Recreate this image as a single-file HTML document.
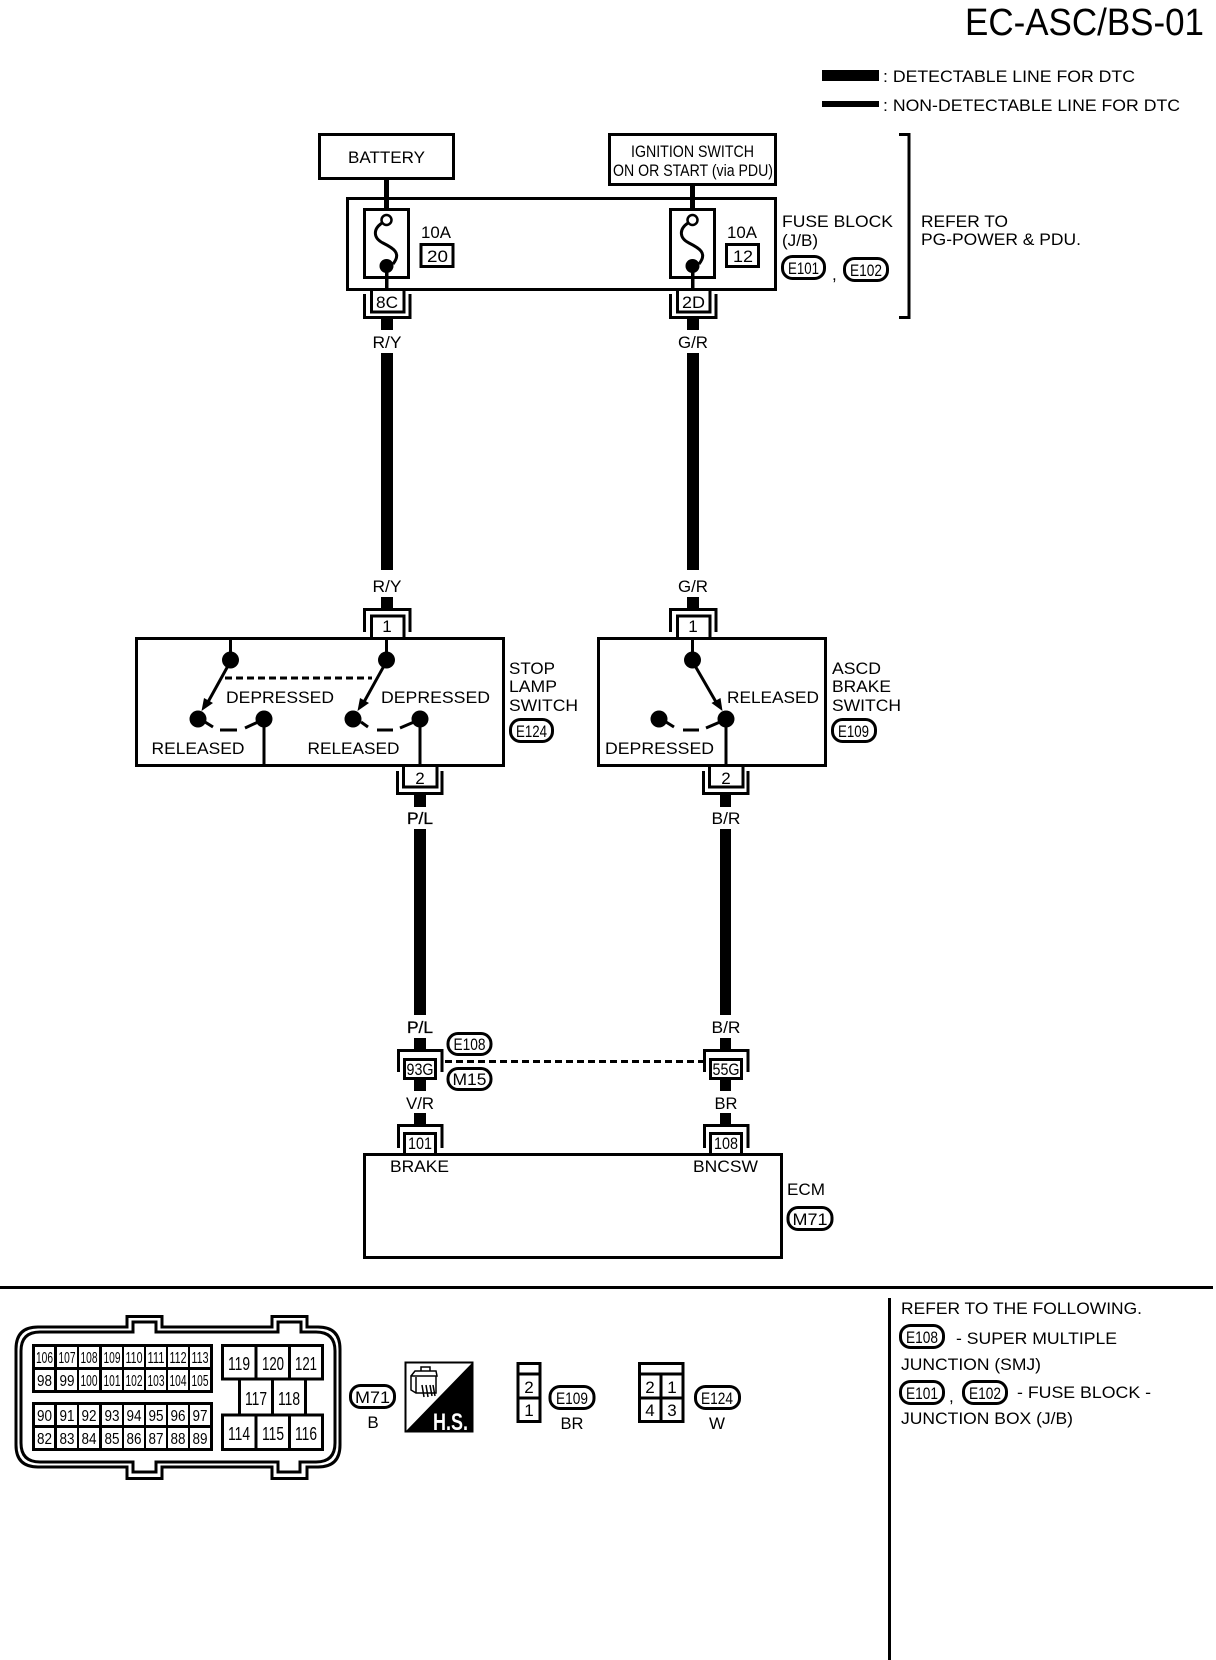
<!DOCTYPE html>
<html><head><meta charset="utf-8"><title>EC-ASC/BS-01</title>
<style>
html,body{margin:0;padding:0;background:#fff;width:1216px;height:1660px;overflow:hidden}
svg{display:block}
text{font-family:"Liberation Sans",sans-serif;font-size:17px;fill:#000}
.p{font-size:17px}
.n{font-size:16px}
.c{text-anchor:middle}
.l{fill:none;stroke:#000;stroke-width:3}
.b{fill:#fff;stroke:#000;stroke-width:3}
.w{fill:#000}
</style></head><body>
<svg width="1216" height="1660" viewBox="0 0 1216 1660" xmlns="http://www.w3.org/2000/svg">
<text x="965" y="35" style="font-size:38px" textLength="239" lengthAdjust="spacingAndGlyphs">EC-ASC/BS-01</text>
<!-- legend -->
<rect class="w" x="822" y="70" width="57" height="11"/>
<rect class="w" x="822" y="101" width="57" height="6"/>
<text x="883" y="82" textLength="252" lengthAdjust="spacingAndGlyphs">: DETECTABLE LINE FOR DTC</text>
<text x="883" y="111" textLength="297" lengthAdjust="spacingAndGlyphs">: NON-DETECTABLE LINE FOR DTC</text>
<!-- top boxes -->
<rect class="l" x="319.500" y="134.500" width="134" height="44"/>
<text x="348" y="163" textLength="77" lengthAdjust="spacingAndGlyphs">BATTERY</text>
<rect class="l" x="609.500" y="134.500" width="166" height="50"/>
<text x="631" y="157" textLength="123" lengthAdjust="spacingAndGlyphs">IGNITION SWITCH</text>
<text x="613" y="176" textLength="160" lengthAdjust="spacingAndGlyphs">ON OR START (via PDU)</text>
<!-- fuse block -->
<rect class="l" x="347.500" y="198.500" width="428" height="91"/>
<rect class="w" x="384" y="179" width="5" height="30"/>
<rect class="w" x="690" y="185" width="5" height="24"/>
<rect class="l" x="364.500" y="209.500" width="44" height="68"/>
<rect class="l" x="670.500" y="209.500" width="44" height="68"/>
<path class="l" d="M382,223C373,229 373,238 383,243C393,248 402,253 393,264M688,223C679,229 679,238 689,243C699,248 708,253 699,264"/>
<circle cx="386.500" cy="220" r="5" class="b" style="stroke-width:2.500"/>
<circle cx="692.500" cy="220" r="5" class="b" style="stroke-width:2.500"/>
<circle cx="386.500" cy="266" r="7" class="w"/>
<circle cx="692.500" cy="266" r="7" class="w"/>
<rect class="w" x="385" y="266" width="3.500" height="24"/>
<rect class="w" x="691" y="266" width="3.500" height="24"/>
<text x="421" y="238" textLength="30" lengthAdjust="spacingAndGlyphs">10A</text>
<text x="727" y="238" textLength="30" lengthAdjust="spacingAndGlyphs">10A</text>
<rect class="l" x="421" y="244.500" width="32" height="22"/>
<rect class="l" x="726.500" y="244.500" width="32" height="22"/>
<text x="427" y="262" textLength="21" lengthAdjust="spacingAndGlyphs">20</text>
<text x="733" y="262" textLength="20" lengthAdjust="spacingAndGlyphs">12</text>
<text x="782" y="227" textLength="111" lengthAdjust="spacingAndGlyphs">FUSE BLOCK</text>
<text x="782" y="246" textLength="36" lengthAdjust="spacingAndGlyphs">(J/B)</text>
<rect class="l" x="782.500" y="256.500" width="42" height="22" rx="10"/>
<text class="p" x="788" y="274" textLength="31" lengthAdjust="spacingAndGlyphs">E101</text>
<text x="832" y="280">,</text>
<rect class="l" x="844.500" y="258.500" width="43" height="22" rx="10"/>
<text class="p" x="850" y="276" textLength="32" lengthAdjust="spacingAndGlyphs">E102</text>
<path class="l" d="M899,134.500H909V317.500H899"/>
<text x="921" y="227" textLength="87" lengthAdjust="spacingAndGlyphs">REFER TO</text>
<text x="921" y="245" textLength="160" lengthAdjust="spacingAndGlyphs">PG-POWER &amp; PDU.</text>
<!-- fuse connectors -->
<path class="l" d="M364.500,294V317.500H410V294M670.500,294V317.500H716V294"/>
<path class="l" d="M371.500,290V312H404V290M677.500,290V312H710V290"/>
<text x="376" y="308" textLength="22" lengthAdjust="spacingAndGlyphs">8C</text>
<text x="682" y="308" textLength="23" lengthAdjust="spacingAndGlyphs">2D</text>
<!-- upper wires -->
<rect class="w" x="381" y="319" width="12" height="11"/>
<rect class="w" x="687" y="319" width="12" height="11"/>
<text class="c" x="387" y="348" textLength="29" lengthAdjust="spacingAndGlyphs">R/Y</text>
<text class="c" x="693" y="348" textLength="30" lengthAdjust="spacingAndGlyphs">G/R</text>
<rect class="w" x="381" y="353" width="12" height="217"/>
<rect class="w" x="687" y="353" width="12" height="217"/>
<text class="c" x="387" y="592" textLength="29" lengthAdjust="spacingAndGlyphs">R/Y</text>
<text class="c" x="693" y="592" textLength="30" lengthAdjust="spacingAndGlyphs">G/R</text>
<rect class="w" x="381" y="597" width="12" height="12"/>
<rect class="w" x="687" y="597" width="12" height="12"/>
<!-- top connectors of switches -->
<path class="l" d="M364.500,632V609.500H410V632M670.500,632V609.500H716V632"/>
<path class="l" d="M371.500,637V616H404V637M677.500,637V616H710V637"/>
<text class="c" style="font-size:17px" x="387" y="632">1</text>
<text class="c" style="font-size:17px" x="693" y="632">1</text>
<!-- switch boxes -->
<rect class="l" x="136.500" y="638.500" width="367" height="127"/>
<rect class="l" x="598.500" y="638.500" width="227" height="127"/>
<path class="l" d="M230.500,638V660M386.500,638V660M692.500,638V660M264,718V765M420,718V765M726,718V765"/>
<circle class="w" cx="230.500" cy="660" r="8.500"/>
<circle class="w" cx="386.500" cy="660" r="8.500"/>
<circle class="w" cx="692.500" cy="660" r="8.500"/>
<circle class="w" cx="198" cy="719" r="8.500"/>
<circle class="w" cx="264" cy="719" r="8.500"/>
<circle class="w" cx="353" cy="719" r="8.500"/>
<circle class="w" cx="420" cy="719" r="8.500"/>
<circle class="w" cx="659" cy="719" r="8.500"/>
<circle class="w" cx="726" cy="719" r="8.500"/>
<!-- arrows -->
<path class="l" d="M229,664L208,702M385,664L364,702M694,664L716,702"/>
<path class="w" d="M201.500,711L204,698L213,703ZM357.500,711L360,698L369,703ZM722.500,711L711.500,703L720.500,698Z"/>
<!-- dashed -->
<path class="l" d="M225,678H372" stroke-dasharray="7,4"/>
<path class="l" d="M205,722L213,727M220,730H237M245,728L258,722M361,722L368,727M377,730H393M400,728L414,722M666,722L674,727M683,730H699M706,728L720,722"/>
<text x="226" y="703" textLength="108" lengthAdjust="spacingAndGlyphs">DEPRESSED</text>
<text x="381" y="703" textLength="109" lengthAdjust="spacingAndGlyphs">DEPRESSED</text>
<text x="151.500" y="754" textLength="93" lengthAdjust="spacingAndGlyphs">RELEASED</text>
<text x="307.500" y="754" textLength="92" lengthAdjust="spacingAndGlyphs">RELEASED</text>
<text x="727" y="703" textLength="92" lengthAdjust="spacingAndGlyphs">RELEASED</text>
<text x="605" y="754" textLength="109" lengthAdjust="spacingAndGlyphs">DEPRESSED</text>
<text x="509" y="674" textLength="46" lengthAdjust="spacingAndGlyphs">STOP</text>
<text x="509" y="692" textLength="48" lengthAdjust="spacingAndGlyphs">LAMP</text>
<text x="509" y="711" textLength="69" lengthAdjust="spacingAndGlyphs">SWITCH</text>
<rect class="l" x="510.500" y="719.500" width="42" height="22" rx="10"/>
<text class="p" x="516" y="737" textLength="31" lengthAdjust="spacingAndGlyphs">E124</text>
<text x="832" y="674" textLength="49" lengthAdjust="spacingAndGlyphs">ASCD</text>
<text x="832" y="692" textLength="59" lengthAdjust="spacingAndGlyphs">BRAKE</text>
<text x="832" y="711" textLength="69" lengthAdjust="spacingAndGlyphs">SWITCH</text>
<rect class="l" x="832.500" y="719.500" width="43" height="22" rx="10"/>
<text class="p" x="838" y="737" textLength="31" lengthAdjust="spacingAndGlyphs">E109</text>
<!-- bottom connectors of switches -->
<path class="l" d="M397.500,771V793.500H442V771M703.500,771V793.500H748V771"/>
<path class="l" d="M403.500,766V787H437V766M709.500,766V787H743V766"/>
<text class="c" style="font-size:17px" x="420" y="784">2</text>
<text class="c" style="font-size:17px" x="726" y="784">2</text>
<!-- lower wires -->
<rect class="w" x="414" y="795" width="12" height="12"/>
<rect class="w" x="720" y="795" width="11" height="12"/>
<text class="c" x="420" y="824" textLength="26" lengthAdjust="spacingAndGlyphs" style="stroke:#000;stroke-width:.3">P/L</text>
<text class="c" x="726" y="824" textLength="29" lengthAdjust="spacingAndGlyphs">B/R</text>
<rect class="w" x="414" y="829" width="12" height="186"/>
<rect class="w" x="720" y="829" width="11" height="186"/>
<text class="c" x="420" y="1033" textLength="26" lengthAdjust="spacingAndGlyphs" style="stroke:#000;stroke-width:.3">P/L</text>
<text class="c" x="726" y="1033" textLength="29" lengthAdjust="spacingAndGlyphs">B/R</text>
<rect class="w" x="414" y="1038" width="12" height="12"/>
<rect class="w" x="720" y="1038" width="11" height="12"/>
<!-- junction -->
<path class="l" d="M398.500,1072V1050.500H442V1072M704.500,1072V1050.500H748V1072"/>
<rect class="l" x="404.500" y="1059.500" width="31" height="19"/>
<rect class="l" x="710.500" y="1059.500" width="31" height="19"/>
<text x="406.500" y="1075" class="p" textLength="27" lengthAdjust="spacingAndGlyphs">93G</text>
<text x="712.500" y="1075" class="p" textLength="27" lengthAdjust="spacingAndGlyphs">55G</text>
<path class="l" d="M445,1061.500H703" stroke-dasharray="7,4"/>
<rect class="l" x="448" y="1033.500" width="43" height="21" rx="10"/>
<text class="p" x="453.500" y="1050" textLength="32" lengthAdjust="spacingAndGlyphs">E108</text>
<rect class="l" x="448" y="1068.500" width="43" height="21" rx="10"/>
<text class="p" x="452.500" y="1085" textLength="34" lengthAdjust="spacingAndGlyphs">M15</text>
<rect class="w" x="414" y="1079" width="12" height="12"/>
<rect class="w" x="720" y="1079" width="11" height="12"/>
<text class="c" x="420" y="1109" textLength="28" lengthAdjust="spacingAndGlyphs">V/R</text>
<text class="c" x="726" y="1109" textLength="23" lengthAdjust="spacingAndGlyphs">BR</text>
<rect class="w" x="414" y="1113" width="12" height="13"/>
<rect class="w" x="720" y="1113" width="11" height="13"/>
<path class="l" d="M398.500,1148V1125.500H442V1148M704.500,1148V1125.500H748V1148"/>
<path class="l" d="M404.500,1153V1133.500H435.500V1153M710.500,1153V1133.500H741.500V1153"/>
<text x="408" y="1149" class="p" textLength="24" lengthAdjust="spacingAndGlyphs">101</text>
<text x="714" y="1149" class="p" textLength="24" lengthAdjust="spacingAndGlyphs">108</text>
<!-- ECM -->
<rect class="l" x="364.500" y="1154.500" width="417" height="103"/>
<text x="390" y="1172" textLength="59" lengthAdjust="spacingAndGlyphs">BRAKE</text>
<text x="693" y="1172" textLength="65" lengthAdjust="spacingAndGlyphs">BNCSW</text>
<text x="787" y="1195" textLength="38" lengthAdjust="spacingAndGlyphs">ECM</text>
<rect class="l" x="788" y="1207.500" width="44" height="22" rx="10"/>
<text class="p" x="792.500" y="1225" textLength="35" lengthAdjust="spacingAndGlyphs">M71</text>
<!-- divider -->
<rect class="w" x="0" y="1286" width="1213" height="3"/>
<rect class="w" x="888" y="1298" width="3" height="362"/>
<!-- ECM connector -->
<path class="l" d="M38,1327H127V1316.500H162V1327H272V1316.500H307V1327H318Q340,1327 340,1349V1445Q340,1467 318,1467H307V1478.500H272V1467H162V1478.500H127V1467H38Q16,1467 16,1445V1349Q16,1327 38,1327Z"/>
<path class="l" d="M40,1332H133V1322H156V1332H278V1322H301V1332H316Q335,1332 335,1351V1443Q335,1462 316,1462H300V1472H278V1462H156V1472H133V1462H40Q21,1462 21,1443V1351Q21,1332 40,1332Z"/>
<g>
<rect class="w" x="32" y="1344" width="181" height="49"/>
<rect class="w" x="32" y="1402" width="181" height="49"/>
<path d="M35,1347h19v20h-19zM57,1347h20v20h-20zM79,1347h20v20h-20zM102,1347h20v20h-20zM124,1347h20v20h-20zM146,1347h20v20h-20zM168,1347h20v20h-20zM190,1347h20v20h-20zM35,1370h19v20h-19zM57,1370h20v20h-20zM79,1370h20v20h-20zM102,1370h20v20h-20zM124,1370h20v20h-20zM146,1370h20v20h-20zM168,1370h20v20h-20zM190,1370h20v20h-20zM35,1405h19v20h-19zM57,1405h20v20h-20zM79,1405h20v20h-20zM102,1405h20v20h-20zM124,1405h20v20h-20zM146,1405h20v20h-20zM168,1405h20v20h-20zM190,1405h20v20h-20zM35,1428h19v20h-19zM57,1428h20v20h-20zM79,1428h20v20h-20zM102,1428h20v20h-20zM124,1428h20v20h-20zM146,1428h20v20h-20zM168,1428h20v20h-20zM190,1428h20v20h-20z" style="fill:#fff"/>
<g style="text-anchor:middle">
<text class="n" x="44.500" y="1363" textLength="17" lengthAdjust="spacingAndGlyphs">106</text><text class="n" x="67" y="1363" textLength="17" lengthAdjust="spacingAndGlyphs">107</text><text class="n" x="89" y="1363" textLength="17" lengthAdjust="spacingAndGlyphs">108</text><text class="n" x="112" y="1363" textLength="17" lengthAdjust="spacingAndGlyphs">109</text><text class="n" x="134" y="1363" textLength="17" lengthAdjust="spacingAndGlyphs">110</text><text class="n" x="156" y="1363" textLength="17" lengthAdjust="spacingAndGlyphs">111</text><text class="n" x="178" y="1363" textLength="17" lengthAdjust="spacingAndGlyphs">112</text><text class="n" x="200" y="1363" textLength="17" lengthAdjust="spacingAndGlyphs">113</text>
<text class="n" x="44.500" y="1386" textLength="15" lengthAdjust="spacingAndGlyphs">98</text><text class="n" x="67" y="1386" textLength="15" lengthAdjust="spacingAndGlyphs">99</text><text class="n" x="89" y="1386" textLength="17" lengthAdjust="spacingAndGlyphs">100</text><text class="n" x="112" y="1386" textLength="17" lengthAdjust="spacingAndGlyphs">101</text><text class="n" x="134" y="1386" textLength="17" lengthAdjust="spacingAndGlyphs">102</text><text class="n" x="156" y="1386" textLength="17" lengthAdjust="spacingAndGlyphs">103</text><text class="n" x="178" y="1386" textLength="17" lengthAdjust="spacingAndGlyphs">104</text><text class="n" x="200" y="1386" textLength="17" lengthAdjust="spacingAndGlyphs">105</text>
<text class="n" x="44.500" y="1421" textLength="15" lengthAdjust="spacingAndGlyphs">90</text><text class="n" x="67" y="1421" textLength="15" lengthAdjust="spacingAndGlyphs">91</text><text class="n" x="89" y="1421" textLength="15" lengthAdjust="spacingAndGlyphs">92</text><text class="n" x="112" y="1421" textLength="15" lengthAdjust="spacingAndGlyphs">93</text><text class="n" x="134" y="1421" textLength="15" lengthAdjust="spacingAndGlyphs">94</text><text class="n" x="156" y="1421" textLength="15" lengthAdjust="spacingAndGlyphs">95</text><text class="n" x="178" y="1421" textLength="15" lengthAdjust="spacingAndGlyphs">96</text><text class="n" x="200" y="1421" textLength="15" lengthAdjust="spacingAndGlyphs">97</text>
<text class="n" x="44.500" y="1444" textLength="15" lengthAdjust="spacingAndGlyphs">82</text><text class="n" x="67" y="1444" textLength="15" lengthAdjust="spacingAndGlyphs">83</text><text class="n" x="89" y="1444" textLength="15" lengthAdjust="spacingAndGlyphs">84</text><text class="n" x="112" y="1444" textLength="15" lengthAdjust="spacingAndGlyphs">85</text><text class="n" x="134" y="1444" textLength="15" lengthAdjust="spacingAndGlyphs">86</text><text class="n" x="156" y="1444" textLength="15" lengthAdjust="spacingAndGlyphs">87</text><text class="n" x="178" y="1444" textLength="15" lengthAdjust="spacingAndGlyphs">88</text><text class="n" x="200" y="1444" textLength="15" lengthAdjust="spacingAndGlyphs">89</text>
</g>
</g>
<!-- right pin block -->
<path class="l" d="M222.500,1345.500H322.500V1379H222.500ZM256,1345.500V1379M289.500,1345.500V1379M239.500,1379V1415M305.500,1379V1415M272.500,1379V1415M222.500,1415H322.500V1449.500H222.500ZM256,1415V1449.500M289.500,1415V1449.500"/>
<g style="text-anchor:middle">
<text style="font-size:18px" x="239" y="1370" textLength="22" lengthAdjust="spacingAndGlyphs">119</text><text style="font-size:18px" x="273" y="1370" textLength="22" lengthAdjust="spacingAndGlyphs">120</text><text style="font-size:18px" x="306" y="1370" textLength="22" lengthAdjust="spacingAndGlyphs">121</text>
<text style="font-size:18px" x="256" y="1405" textLength="22" lengthAdjust="spacingAndGlyphs">117</text><text style="font-size:18px" x="289" y="1405" textLength="22" lengthAdjust="spacingAndGlyphs">118</text>
<text style="font-size:18px" x="239" y="1440" textLength="22" lengthAdjust="spacingAndGlyphs">114</text><text style="font-size:18px" x="273" y="1440" textLength="22" lengthAdjust="spacingAndGlyphs">115</text><text style="font-size:18px" x="306" y="1440" textLength="22" lengthAdjust="spacingAndGlyphs">116</text>
</g>
<rect class="l" x="350.500" y="1385.500" width="44" height="22" rx="10"/>
<text class="p" x="355" y="1403" textLength="35" lengthAdjust="spacingAndGlyphs">M71</text>
<text class="c" x="373" y="1428">B</text>
<!-- H.S. -->
<rect x="405.500" y="1362.500" width="67" height="69" fill="#fff" stroke="#000" stroke-width="2"/>
<path class="w" d="M472,1363V1431H406Z"/>
<text x="433" y="1430" style="font-size:24px;font-weight:bold;fill:#fff" textLength="35" lengthAdjust="spacingAndGlyphs">H.S.</text>
<path fill="none" stroke="#000" stroke-width="1.500" d="M411,1376L415,1371H436L437,1376H411V1390L416,1393H436V1376M416,1393V1377M421,1371V1367H430V1371M422,1385L424,1397M426,1385L428,1397M430,1385L432,1396M433,1385L435,1396"/>
<!-- E109 connector -->
<path class="l" d="M518,1363.500H540V1421.500H518ZM518,1374H540M518,1398H540"/>
<text class="c" x="529" y="1393" style="font-size:17px">2</text>
<text class="c" x="529" y="1416" style="font-size:17px">1</text>
<rect class="l" x="550" y="1386.500" width="44" height="22" rx="10"/>
<text class="p" x="556" y="1404" textLength="32" lengthAdjust="spacingAndGlyphs">E109</text>
<text class="c" x="572" y="1429" textLength="23" lengthAdjust="spacingAndGlyphs">BR</text>
<!-- E124 connector -->
<path class="l" d="M639.500,1363.500H683V1421.500H639.500ZM639.500,1374H683M639.500,1398H683M661,1374V1421.500"/>
<text class="c" x="650" y="1393" style="font-size:17px">2</text><text class="c" x="672" y="1393" style="font-size:17px">1</text>
<text class="c" x="650" y="1416" style="font-size:17px">4</text><text class="c" x="672" y="1416" style="font-size:17px">3</text>
<rect class="l" x="695.500" y="1386.500" width="44" height="22" rx="10"/>
<text class="p" x="701" y="1404" textLength="32" lengthAdjust="spacingAndGlyphs">E124</text>
<text class="c" x="717" y="1429" textLength="16" lengthAdjust="spacingAndGlyphs">W</text>
<!-- notes -->
<text x="901" y="1314" textLength="241" lengthAdjust="spacingAndGlyphs">REFER TO THE FOLLOWING.</text>
<rect class="l" x="900.500" y="1325.500" width="43" height="22" rx="10"/>
<text class="p" x="906" y="1343" textLength="32" lengthAdjust="spacingAndGlyphs">E108</text>
<text x="956" y="1344" textLength="161" lengthAdjust="spacingAndGlyphs">- SUPER MULTIPLE</text>
<text x="901" y="1370" textLength="140" lengthAdjust="spacingAndGlyphs">JUNCTION (SMJ)</text>
<rect class="l" x="900.500" y="1381.500" width="43" height="22" rx="10"/>
<text class="p" x="906" y="1399" textLength="32" lengthAdjust="spacingAndGlyphs">E101</text>
<text x="949" y="1402">,</text>
<rect class="l" x="963.500" y="1381.500" width="43" height="22" rx="10"/>
<text class="p" x="969" y="1399" textLength="32" lengthAdjust="spacingAndGlyphs">E102</text>
<text x="1017" y="1398" textLength="134" lengthAdjust="spacingAndGlyphs">- FUSE BLOCK -</text>
<text x="901" y="1424" textLength="172" lengthAdjust="spacingAndGlyphs">JUNCTION BOX (J/B)</text>
</svg>
</body></html>
